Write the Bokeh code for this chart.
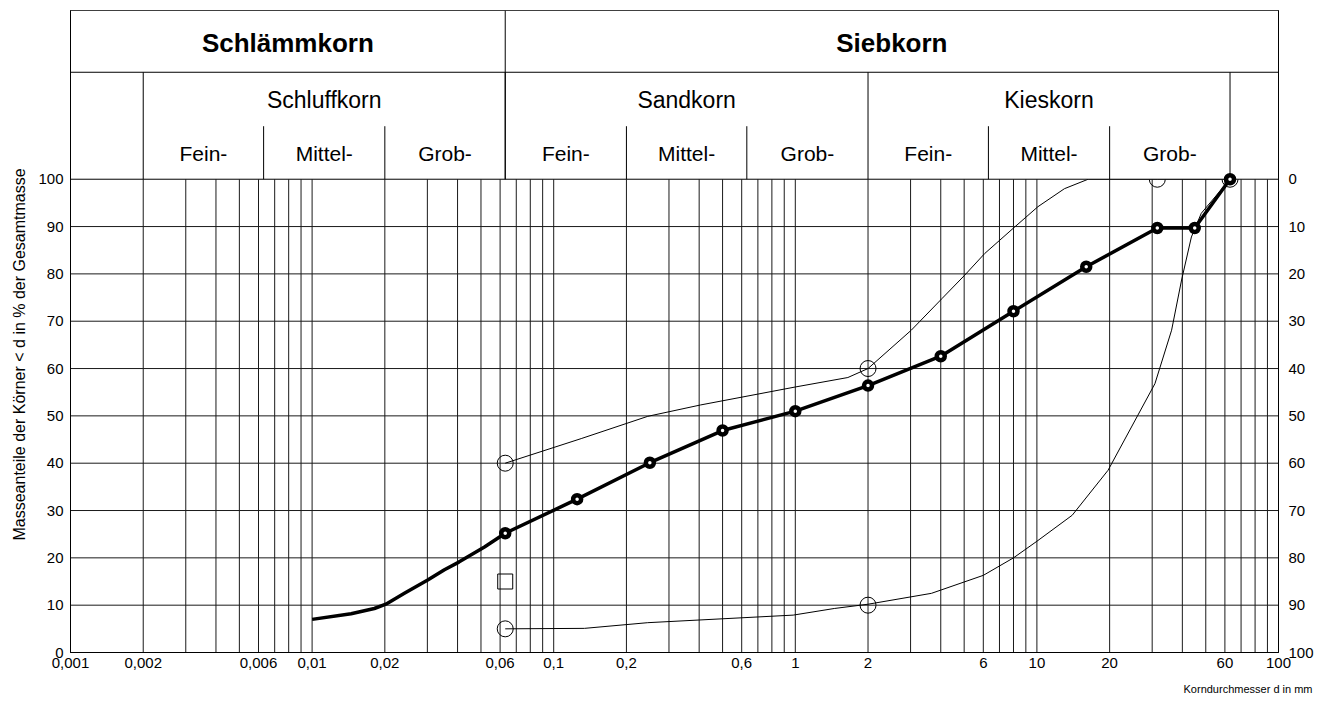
import math
from bokeh.plotting import figure
from bokeh.models import Range1d, LinearAxis, FixedTicker, CustomJSTickFormatter, Title
from bokeh.core.properties import value
from bokeh.embed import file_html
from bokeh.resources import INLINE

FONT = "Liberation Sans"

# ---------------- data ----------------
x_ticks = [0.001, 0.002, 0.006, 0.01, 0.02, 0.06, 0.1, 0.2, 0.6, 1, 2, 6, 10, 20, 60, 100]
y_ticks = [0, 10, 20, 30, 40, 50, 60, 70, 80, 90, 100]

# sedimentation part of the measured curve (no markers)
sed_d = [0.01, 0.0145, 0.0181, 0.0202, 0.0241, 0.0301, 0.0353, 0.0405, 0.0517, 0.063]
sed_p = [7.0, 8.2, 9.3, 10.2, 12.5, 15.3, 17.5, 19.1, 22.3, 25.2]

# sieve analysis of the measured curve (markers)
sieve_d = [0.063, 0.125, 0.25, 0.5, 1.0, 2.0, 4.0, 8.0, 16.0, 31.5, 45.0, 63.0]
sieve_p = [25.2, 32.4, 40.1, 46.9, 51.0, 56.4, 62.6, 72.1, 81.5, 89.7, 89.7, 100.0]

# upper limit curve
up_d = [0.063, 0.13, 0.245, 0.405, 1.0, 1.65, 2.0, 3.02, 4.05, 5.02, 6.08, 8.05, 10.1, 13.0, 16.3, 31.5, 63.0]
up_p = [40.0, 45.2, 49.9, 52.3, 56.1, 58.1, 60.0, 68.1, 74.8, 79.7, 84.3, 89.8, 94.2, 98.0, 100.0, 100.0, 100.0]

# lower limit curve
low_d = [0.063, 0.134, 0.245, 0.98, 1.45, 2.0, 3.66, 6.0, 8.0, 10.0, 14.0, 19.7, 30.8, 36.1, 39.7, 43.6, 47.9, 63.0]
low_p = [5.0, 5.1, 6.3, 7.9, 9.3, 10.2, 12.5, 16.3, 20.0, 23.5, 29.0, 38.5, 56.8, 68.1, 78.7, 87.8, 92.8, 100.0]

# open reference markers of the limit curves
ref_d = [0.063, 2.0, 31.5, 0.063, 2.0, 63.0]
ref_p = [40.0, 60.0, 100.0, 5.0, 10.0, 100.0]
sq_d = [0.063]
sq_p = [15.0]

# header classification
main_names = ["Schlämmkorn", "Siebkorn"]
main_bounds = [0.001, 0.063, 100.0]
group_names = ["Schluffkorn", "Sandkorn", "Kieskorn"]
group_bounds = [0.002, 0.063, 2.0, 63.0]
sub_names = ["Fein-", "Mittel-", "Grob-"]
sub_bounds = [[0.002, 0.0063, 0.02, 0.063], [0.063, 0.2, 0.63, 2.0], [2.0, 6.3, 20.0, 63.0]]

x_title = "Korndurchmesser d in mm"
y_title = "Masseanteile der Körner < d in % der Gesamtmasse"

# ---------------- layout constants ----------------
YTOP = 135.65     # top of header box in % units
Y_ROW1 = 122.6    # line between header row 1 and 2
Y_SUB = 111.2     # top of sub-class dividers

p = figure(width=1319, height=706, x_axis_type="log",
           x_range=Range1d(0.001, 100), y_range=Range1d(0, YTOP),
           output_backend="svg", toolbar_location=None,
           min_border_left=70, min_border_right=41, min_border_top=10, min_border_bottom=54)
p.outline_line_color = "black"
p.outline_line_width = 1
p.xgrid.visible = False
p.ygrid.visible = False
p.background_fill_color = "white"
p.border_fill_color = "white"

p.xaxis.ticker = FixedTicker(ticks=x_ticks)
p.xaxis.formatter = CustomJSTickFormatter(code="return String(tick).replace('.', ',');")
p.yaxis.ticker = FixedTicker(ticks=y_ticks)

p.extra_y_ranges = {"rev": Range1d(100, 100 - YTOP)}
raxis = LinearAxis(y_range_name="rev", ticker=FixedTicker(ticks=y_ticks))
p.add_layout(raxis, "right")

for ax in [p.xaxis[0], p.yaxis[0], raxis]:
    ax.major_tick_line_color = None
    ax.minor_tick_line_color = None
    ax.major_tick_out = 0
    ax.major_tick_in = 0
    ax.axis_line_color = "black"
    ax.axis_line_width = 1
    ax.major_label_text_font = FONT
    ax.major_label_text_font_size = "15px"
    ax.major_label_text_color = "black"
p.xaxis.major_label_standoff = 5
p.yaxis.major_label_standoff = 7
raxis.major_label_standoff = 10

# ---------------- grid ----------------
gx = [k * 10.0 ** e for e in range(-3, 2) for k in range(1, 10)] + [100.0]
p.segment(x0=gx, y0=[0] * len(gx), x1=gx, y1=[100] * len(gx), line_color="#1a1a1a", line_width=1)
gy = y_ticks[1:-1]
p.segment(x0=[0.001] * len(gy), y0=gy, x1=[100] * len(gy), y1=gy, line_color="#1a1a1a", line_width=1)

# ---------------- curves ----------------
p.line(up_d, up_p, line_color="black", line_width=1)
p.line(low_d, low_p, line_color="black", line_width=1)
p.line(sed_d + sieve_d[1:], sed_p + sieve_p[1:], line_color="black", line_width=3.5, line_join="round")
p.scatter(ref_d, ref_p, marker="circle", size=16, fill_alpha=0, line_color="black", line_width=1)
p.scatter(sq_d, sq_p, marker="square", size=15, fill_alpha=0, line_color="black", line_width=1)

# ---------------- header ----------------
p.quad(left=[0.001], right=[100], bottom=[100], top=[YTOP], fill_color="white", line_color=None)
p.segment(x0=[0.001, 0.001], y0=[100, Y_ROW1], x1=[100, 100], y1=[100, Y_ROW1],
          line_color="black", line_width=1)
p.segment(x0=main_bounds[1:-1], y0=[100], x1=main_bounds[1:-1], y1=[YTOP], line_color="black", line_width=1)
p.segment(x0=group_bounds, y0=[100] * len(group_bounds), x1=group_bounds, y1=[Y_ROW1] * len(group_bounds),
          line_color="black", line_width=1)
sub_lines = [b[i] for b in sub_bounds for i in (1, 2)]
p.segment(x0=sub_lines, y0=[100] * len(sub_lines), x1=sub_lines, y1=[Y_SUB] * len(sub_lines),
          line_color="black", line_width=1)


def gmean(a, b):
    return math.sqrt(a * b)


p.text(x=[gmean(main_bounds[i], main_bounds[i + 1]) for i in range(2)], y=[128.7, 128.7], text=main_names,
       text_font=value(FONT), text_font_size=value("26px"), text_font_style="bold",
       text_align="center", text_baseline="middle", text_color="black")
p.text(x=[gmean(group_bounds[i], group_bounds[i + 1]) for i in range(3)], y=[116.7] * 3, text=group_names,
       text_font=value(FONT), text_font_size=value("23px"),
       text_align="center", text_baseline="middle", text_color="black")
sx, st = [], []
for b in sub_bounds:
    for i in range(3):
        sx.append(gmean(b[i], b[i + 1]))
        st.append(sub_names[i])
p.text(x=sx, y=[105.5] * len(sx), text=st,
       text_font=value(FONT), text_font_size=value("21px"),
       text_align="center", text_baseline="middle", text_color="black")

# measured markers on top
p.scatter(sieve_d, sieve_p, marker="circle", size=8, fill_color="white", line_color="black", line_width=4.5)

# ---------------- axis titles ----------------
p.add_layout(Title(text=y_title, align="left", offset=112,
                   vertical_align="top", standoff=12, text_font=FONT, text_font_size="16px",
                   text_font_style="normal", text_color="black"), "left")
p.add_layout(Title(text=x_title, align="right", offset=-34,
                   vertical_align="bottom", standoff=20, text_font=FONT, text_font_size="11px",
                   text_font_style="normal", text_color="black"), "below")

open("out.html", "w").write(file_html(p, INLINE))
